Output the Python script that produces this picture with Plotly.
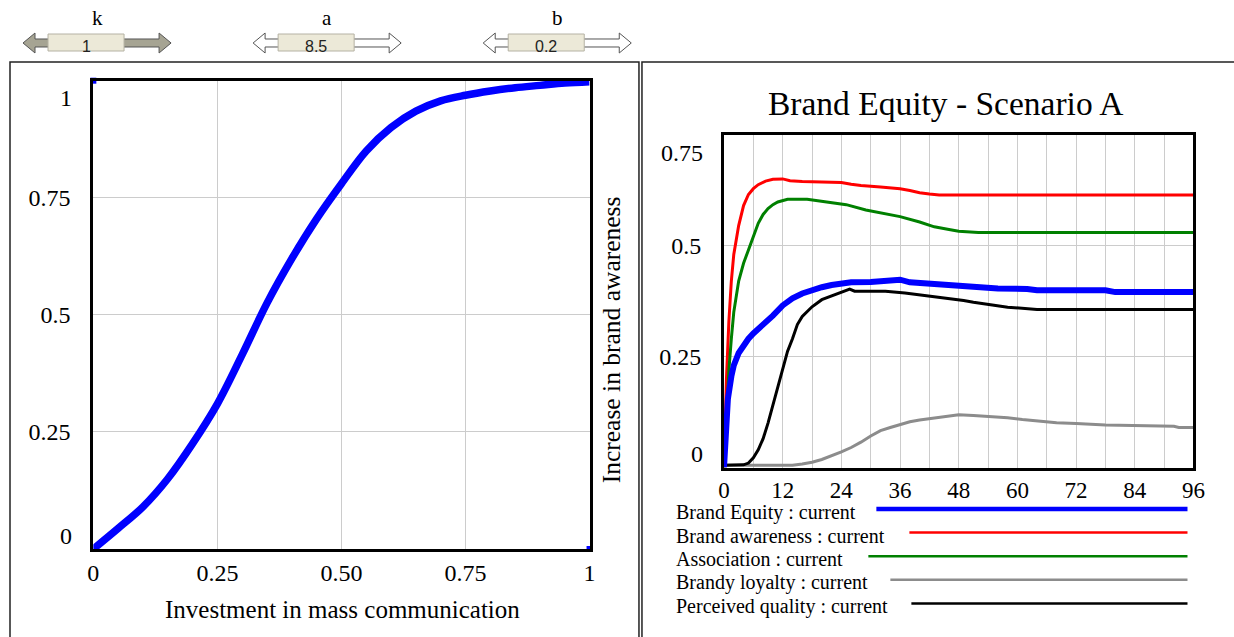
#!/usr/bin/env python3
"""
Brand equity model - lookup curve and scenario A simulation
Recreates the Vensim style control panel with Plotly
"""

import plotly.graph_objects as go

W, H = 1234, 637
SERIF = "Liberation Serif"
SANS = "Liberation Sans"

# --- lookup: investment in mass communication -> increase in brand awareness
invest = [0, 0.05, 0.1, 0.15, 0.2, 0.25, 0.3, 0.35, 0.4, 0.45, 0.5,
          0.55, 0.6, 0.65, 0.7, 0.75, 0.8, 0.85, 0.9, 0.95, 1.0]
awareness_increase = [0, 0.044, 0.09, 0.15, 0.225, 0.31, 0.415, 0.525, 0.62, 0.705, 0.78,
                      0.85, 0.9, 0.935, 0.957, 0.969, 0.978, 0.985, 0.99, 0.995, 0.998]
lookup_bounds_x = [0, 1]
lookup_bounds_y = [1, 0]

# --- scenario A, months 0..96
equity_t = [0, 0.3, 0.8, 1.5, 2, 3, 4, 5, 6, 8, 10, 12, 14, 16, 18, 20, 22, 24, 26, 30,
            34, 36, 38, 42, 46, 50, 52, 56, 62, 64, 78, 80, 96]
equity_v = [0, 0.08, 0.155, 0.205, 0.23, 0.258, 0.277, 0.29, 0.302, 0.32, 0.342, 0.365,
            0.381, 0.392, 0.4, 0.406, 0.411, 0.414, 0.417, 0.418, 0.42, 0.423, 0.417,
            0.414, 0.411, 0.41, 0.408, 0.403, 0.402, 0.399, 0.399, 0.395, 0.395]

awareness_t = [0, 0.5, 1, 1.5, 2, 3, 4, 5, 6, 7, 8.5, 10, 12, 13.5, 16, 24, 26, 28, 32,
               36, 38, 40, 42, 44, 96]
awareness_v = [0, 0.2, 0.33, 0.42, 0.48, 0.545, 0.59, 0.615, 0.628, 0.637, 0.645, 0.649,
               0.65, 0.646, 0.644, 0.642, 0.638, 0.635, 0.632, 0.628, 0.624, 0.619, 0.616,
               0.614, 0.614]

association_t = [0, 0.5, 1, 1.5, 2, 3, 4, 5, 6, 7, 8, 9, 10, 11, 13, 17, 21, 25, 29, 33,
                 36, 40, 43, 46, 48, 52, 96]
association_v = [0, 0.12, 0.22, 0.29, 0.35, 0.42, 0.46, 0.49, 0.52, 0.55, 0.57, 0.583,
                 0.592, 0.598, 0.604, 0.604, 0.598, 0.592, 0.58, 0.572, 0.565, 0.553,
                 0.542, 0.536, 0.532, 0.529, 0.529]

loyalty_t = [0, 14, 16, 18, 20, 22, 24, 26, 28, 30, 32, 34, 36, 38, 40, 42, 46, 48, 51,
             55, 58, 61, 64, 68, 72, 78, 92, 93, 96]
loyalty_v = [0.005, 0.005, 0.008, 0.012, 0.018, 0.026, 0.035, 0.045, 0.057, 0.071, 0.083,
             0.09, 0.097, 0.103, 0.107, 0.11, 0.115, 0.119, 0.117, 0.114, 0.112, 0.108,
             0.105, 0.101, 0.099, 0.096, 0.093, 0.09, 0.09]

quality_t = [0, 3, 4, 5, 6, 7, 8, 9, 10, 11, 12, 13, 14, 15, 16, 17, 18, 20, 22, 24, 25.7,
             26.7, 33, 37, 40, 43, 46, 49, 51, 54, 58, 64, 96]
quality_v = [0.005, 0.005, 0.006, 0.01, 0.022, 0.04, 0.065, 0.1, 0.14, 0.18, 0.22, 0.262,
             0.29, 0.322, 0.34, 0.352, 0.362, 0.378, 0.387, 0.396, 0.402, 0.397, 0.397,
             0.393, 0.389, 0.384, 0.38, 0.376, 0.372, 0.367, 0.361, 0.356, 0.356]

series = [
    ("Brand Equity : current", equity_t, equity_v, "#0000ff", 6),
    ("Brand awareness : current", awareness_t, awareness_v, "#ff0000", 3),
    ("Association : current", association_t, association_v, "#008000", 3),
    ("Brandy loyalty : current", loyalty_t, loyalty_v, "#8c8c8c", 3),
    ("Perceived quality : current", quality_t, quality_v, "#000000", 3),
]
# x position (px) where each legend key line starts
legend_key_start = [875, 908, 867, 889, 910]

# sliders: name, value, left edge (px), filled
sliders = [("k", "1", 22, True), ("a", "8.5", 252, False), ("b", "0.2", 482, False)]


# the photographed page comes out squeezed a little horizontally
# (about 0.985 with a 5 px shift), so positions are pre-corrected
def px(x):
    return (x - 5) / 0.985 / W


def py(y):
    return 1 - y / H


def path(points):
    return "M " + " L ".join(f"{px(x):.5f},{py(y):.5f}" for x, y in points) + " Z"


fig = go.Figure()

# lookup curve
fig.add_trace(go.Scatter(x=invest, y=awareness_increase, mode="lines",
                         line=dict(color="#0000ff", width=7.5, shape="spline"),
                         xaxis="x", yaxis="y"))
fig.add_trace(go.Scatter(x=lookup_bounds_x, y=lookup_bounds_y, mode="markers",
                         marker=dict(symbol="square", size=6, color="#0000ff"),
                         xaxis="x", yaxis="y", cliponaxis=False))

# simulation runs (thick blue drawn last so it sits on top like the original)
for name, t, v, color, width in series[1:] + series[:1]:
    fig.add_trace(go.Scatter(x=t, y=v, mode="lines", name=name,
                             line=dict(color=color, width=width),
                             xaxis="x2", yaxis="y2"))

grid = "#cccccc"
frame = dict(showline=True, mirror=True, linecolor="black", linewidth=3,
             zeroline=False, ticks="", showgrid=True, gridcolor=grid, gridwidth=1)


def tickfont(size):
    return dict(family=SERIF, size=size, color="black")


fig.update_layout(
    width=W, height=H,
    margin=dict(l=0, r=0, t=0, b=0),
    paper_bgcolor="white", plot_bgcolor="white",
    showlegend=False,
    xaxis=dict(domain=[px(92.3), px(588.3)], range=[0, 1], anchor="y",
               tickvals=[0, 0.25, 0.5, 0.75, 1],
               ticktext=["0", "0.25", "0.50", "0.75", "1"],
               ticklabelstandoff=0, tickfont=tickfont(24), **frame),
    yaxis=dict(domain=[py(549), py(80.7)], range=[0, 1], anchor="x",
               tickvals=[0.25, 0.5, 0.75], ticktext=["0.25", "0.5", "0.75"],
               ticklabelstandoff=15, tickfont=tickfont(24), **frame),
    xaxis2=dict(domain=[px(722.7), px(1192)], range=[0, 96], anchor="y2",
                tickvals=list(range(0, 97, 12)),
                minor=dict(tick0=0, dtick=6, showgrid=True, gridcolor=grid, gridwidth=1),
                ticklabelstandoff=0, tickfont=tickfont(23), **frame),
    yaxis2=dict(domain=[py(467.5), py(134.5)], range=[0, 0.75], anchor="x2",
                tickvals=[0.25, 0.5], ticktext=["0.25", "0.5"],
                ticklabelstandoff=15, tickfont=tickfont(24), **frame),
)

annotations = []
shapes = []

# edge tick labels sit inside the axis range, Vensim style
for xref, yref, val, text, shift in [("x domain", "y", 1, "1", -17),
                                     ("x domain", "y", 0, "0", 13),
                                     ("x2 domain", "y2", 0.75, "0.75", -18),
                                     ("x2 domain", "y2", 0, "0", 14)]:
    annotations.append(dict(xref=xref, yref=yref, x=0, y=val, text=text,
                            xanchor="right", yanchor="middle", xshift=-19, yshift=shift,
                            showarrow=False, font=tickfont(24)))

# axis titles and chart title
annotations.append(dict(xref="paper", yref="paper", x=px(341), y=py(609),
                        text="Investment in mass communication", showarrow=False,
                        xanchor="center", yanchor="middle",
                        font=dict(family=SERIF, size=25, color="black")))
annotations.append(dict(xref="paper", yref="paper", x=px(610), y=py(340),
                        text="Increase in brand awareness", showarrow=False, textangle=-90,
                        xanchor="center", yanchor="middle",
                        font=dict(family=SERIF, size=25.5, color="black")))
annotations.append(dict(xref="paper", yref="paper", x=px(944), y=py(104),
                        text="Brand Equity - Scenario A", showarrow=False,
                        xanchor="center", yanchor="middle",
                        font=dict(family=SERIF, size=33.5, color="black")))

# legend below the time graph
for i, (name, t, v, color, width) in enumerate(series):
    row_y = 512 + i * 23.6
    annotations.append(dict(xref="paper", yref="paper", x=px(673), y=py(row_y),
                            text=name, showarrow=False, xanchor="left", yanchor="middle",
                            font=dict(family=SERIF, size=20, color="black")))
    shapes.append(dict(type="line", xref="paper", yref="paper",
                       x0=px(legend_key_start[i]), x1=px(1186),
                       y0=py(row_y - 3), y1=py(row_y - 3),
                       line=dict(color=color, width=4.5 if width > 3 else 2.5)))

# panel frames
shapes.append(dict(type="rect", xref="paper", yref="paper",
                   x0=px(9), x1=px(637.7), y0=py(62), y1=py(700),
                   line=dict(color="#222222", width=1.5)))
shapes.append(dict(type="rect", xref="paper", yref="paper",
                   x0=px(640.7), x1=px(1250), y0=py(62), y1=py(700),
                   line=dict(color="#222222", width=1.5)))

# sliders
for name, value, left, filled in sliders:
    right = left + 148
    cy = 43
    head = 12
    arrow = [(left, cy), (left + head, cy - 10), (left + head, cy - 4),
             (right - head, cy - 4), (right - head, cy - 10), (right, cy),
             (right - head, cy + 10), (right - head, cy + 4), (left + head, cy + 4),
             (left + head, cy + 10)]
    shapes.append(dict(type="path", xref="paper", yref="paper", path=path(arrow),
                       fillcolor="#a6a493" if filled else "white",
                       line=dict(color="#555555", width=1)))
    bx0, bx1 = left + 25, left + 101
    shapes.append(dict(type="rect", xref="paper", yref="paper",
                       x0=px(bx0), x1=px(bx1), y0=py(51), y1=py(34),
                       fillcolor="#ece9d8", line=dict(color="#b5b2a4", width=1)))
    annotations.append(dict(xref="paper", yref="paper", x=px((bx0 + bx1) / 2), y=py(46),
                            text=value, showarrow=False, xanchor="center", yanchor="middle",
                            font=dict(family=SANS, size=16, color="#222222")))
    annotations.append(dict(xref="paper", yref="paper", x=px(left + 74), y=py(18),
                            text=name, showarrow=False, xanchor="center", yanchor="middle",
                            font=dict(family=SERIF, size=21, color="black")))

fig.update_layout(annotations=annotations, shapes=shapes)

# the page gets the default body margin, drop it so the figure fills the window exactly
fig.write_html("out.html", config={"displayModeBar": False},
               post_script="document.body.style.margin='0';document.body.style.overflow='hidden';")
